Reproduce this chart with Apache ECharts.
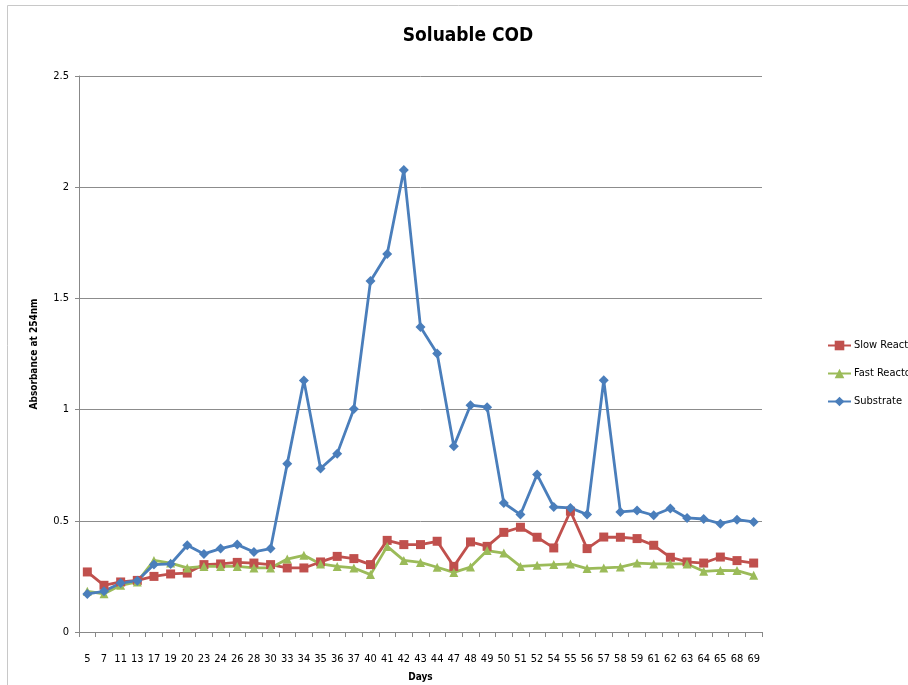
<!DOCTYPE html>
<html>
<head>
<meta charset="utf-8">
<script src="https://cdn.jsdelivr.net/npm/echarts@6/dist/echarts.min.js"></script>
<style>
  html, body { margin: 0; padding: 0; background: #fff; }
  #chart { width: 908px; height: 685px; }
</style>
</head>
<body>
<div id="chart"></div>
<script>
var days = ['5', '7', '11', '13', '17', '19', '20', '23', '24', '26', '28', '30', '33', '34', '35', '36', '37', '40', '41', '42', '43',
  '44', '47', '48', '49', '50', '51', '52', '54', '55', '56', '57', '58', '59', '61', '62', '63', '64', '65', '68', '69'];

var slowReactor = [0.27, 0.21, 0.225, 0.232, 0.25, 0.261, 0.265, 0.303, 0.306, 0.313, 0.31, 0.303, 0.288, 0.288, 0.315, 0.34, 0.33,
  0.303, 0.412, 0.393, 0.393, 0.408, 0.295, 0.405, 0.385, 0.448, 0.471, 0.426, 0.378, 0.543, 0.375, 0.427, 0.426, 0.42,
  0.39, 0.336, 0.315, 0.31, 0.337, 0.321, 0.31];

var fastReactor = [0.183, 0.172, 0.21, 0.225, 0.322, 0.31, 0.288, 0.295, 0.295, 0.295, 0.288, 0.288, 0.328, 0.345, 0.306, 0.295,
  0.288, 0.258, 0.385, 0.322, 0.313, 0.291, 0.268, 0.292, 0.366, 0.355, 0.295, 0.30, 0.303, 0.306, 0.285, 0.288, 0.292,
  0.31, 0.306, 0.306, 0.306, 0.273, 0.277, 0.276, 0.255];

var substrate = [0.171, 0.183, 0.22, 0.231, 0.303, 0.306, 0.39, 0.351, 0.375, 0.393, 0.36, 0.375, 0.756, 1.131, 0.735, 0.802,
  1.003, 1.578, 1.70, 2.077, 1.371, 1.252, 0.835, 1.02, 1.011, 0.58, 0.528, 0.708, 0.562, 0.558, 0.528, 1.132, 0.54,
  0.546, 0.525, 0.555, 0.513, 0.508, 0.487, 0.505, 0.495];

var yTicks = [0, 0.5, 1, 1.5, 2, 2.5];

var font = "'Liberation Sans Narrow', 'DejaVu Sans Condensed', Roboto, sans-serif";
var chart = echarts.init(document.getElementById('chart'), null, { renderer: 'canvas' });

function lineSeries(name, data, color, symbol, size) {
  return {
    name: name,
    type: 'line',
    data: data,
    symbol: symbol,
    symbolSize: size,
    lineStyle: { color: color, width: 2.8 },
    itemStyle: { color: color },
    emphasis: { disabled: true }
  };
}

chart.setOption({
  animation: false,
  backgroundColor: '#fff',
  textStyle: { fontFamily: font },
  title: {
    text: 'Soluable COD',
    left: 463,
    top: 22,
    textAlign: 'center',
    textStyle: { fontSize: 19, fontWeight: 'bold', color: '#000', fontFamily: font }
  },
  graphic: [{
    type: 'rect',
    shape: { x: 7.5, y: 5.5, width: 1000, height: 1000 },
    style: { fill: 'none', stroke: '#c8c8c8', lineWidth: 1 },
    silent: true
  }],
  legend: {
    orient: 'vertical',
    left: 822,
    top: 335,
    itemWidth: 23,
    itemHeight: 12,
    itemGap: 17,
    data: ['Slow Reactor', 'Fast Reactor', 'Substrate'],
    textStyle: { fontSize: 11, color: '#000', fontFamily: font, padding: [0, 0, 0, -2] }
  },
  grid: { left: 79, right: 146, top: 76, bottom: 53, outerBoundsMode: 'none' },
  xAxis: {
    type: 'category',
    data: days,
    boundaryGap: true,
    name: 'Days',
    nameLocation: 'middle',
    nameGap: 40,
    nameTextStyle: { fontSize: 10, fontWeight: 'bold', color: '#000' },
    axisLine: { lineStyle: { color: '#888', width: 1 } },
    axisTick: { show: true, length: 5, interval: 0, lineStyle: { color: '#888' } },
    axisLabel: { interval: 0, fontSize: 11, color: '#000', margin: 22 },
    splitLine: { show: false }
  },
  yAxis: {
    type: 'value',
    min: yTicks[0],
    max: yTicks[yTicks.length - 1],
    interval: 0.5,
    name: 'Absorbance at 254nm',
    nameLocation: 'middle',
    nameGap: 40,
    nameTextStyle: { fontSize: 10, fontWeight: 'bold', color: '#000' },
    axisLine: { show: true, lineStyle: { color: '#888', width: 1 } },
    axisTick: { show: true, length: 4, lineStyle: { color: '#888' } },
    axisLabel: { fontSize: 11, color: '#000', margin: 10 },
    splitLine: { lineStyle: { color: '#8c8c8c', width: 1 } }
  },
  series: [
    lineSeries('Slow Reactor', slowReactor, '#C0504D', 'rect', 9),
    lineSeries('Fast Reactor', fastReactor, '#9BBB59', 'triangle', 9),
    lineSeries('Substrate', substrate, '#4A7EBB', 'diamond', 10)
  ]
});
</script>
</body>
</html>
